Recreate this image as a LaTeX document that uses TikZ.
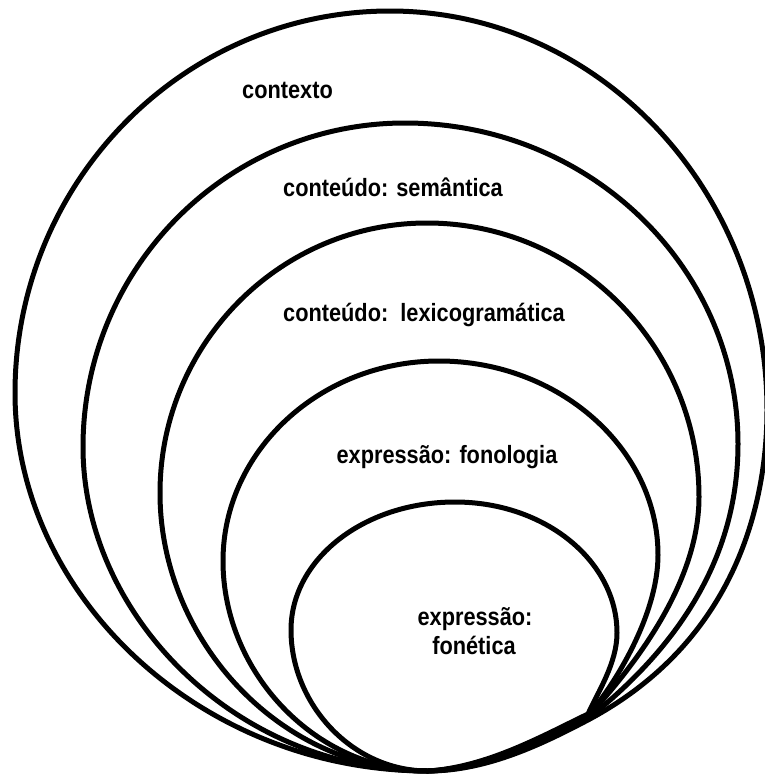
\documentclass[tikz,border=0pt]{standalone}
\usepackage{fontspec}
\setmainfont{Liberation Sans}[FakeStretch=0.87]
\begin{document}
\begin{tikzpicture}[x=1pt,y=-1pt,
  ring/.style={line width=5pt, line join=round},
  lbl/.style={font=\fontsize{25}{29}\selectfont\bfseries, anchor=base, inner sep=0pt}]
\useasboundingbox (0,0) rectangle (765,774);

% common bottom point
\coordinate (B) at (428,771);

% outer ring: contexto
\coordinate (L1) at (15,393);  \coordinate (T1) at (390,11);  \coordinate (R1) at (767,410);
\coordinate (J1) at (588,720);
\draw[ring] (B) .. controls (200,771) and (15,595) .. (L1)
  .. controls (15,182) and (183,11) .. (T1)
  .. controls (598,11) and (767,190) .. (R1)
  .. controls (767,500) and (738,640) .. (J1)
  .. controls (544,743) and (488,771) .. cycle;

% ring 2: semantica
\coordinate (L2) at (83,447);  \coordinate (T2) at (405,123);  \coordinate (R2) at (738,444);
\coordinate (J2) at (588,718.5);
\draw[ring] (B) .. controls (236,771) and (83,615) .. (L2)
  .. controls (83,268) and (227,123) .. (T2)
  .. controls (589,123) and (738,267) .. (R2)
  .. controls (738,554) and (682,644) .. (J2)
  .. controls (544,741) and (488,770) .. cycle;

% ring 3: lexicogramatica
\coordinate (L3) at (160,493);  \coordinate (T3) at (427,223);  \coordinate (R3) at (699,497);
\coordinate (J3) at (588,717);
\draw[ring] (B) .. controls (280,771) and (160,640) .. (L3)
  .. controls (160,344) and (280,223) .. (T3)
  .. controls (577,223) and (699,346) .. (R3)
  .. controls (699,597) and (611,690) .. (J3)
  .. controls (544,739) and (488,769) .. cycle;

% ring 4: fonologia
\coordinate (L4) at (223,561);  \coordinate (T4) at (439,361);  \coordinate (R4) at (658,555);
\coordinate (J4) at (588,715.5);
\draw[ring] (B) .. controls (315,771) and (223,672) .. (L4)
  .. controls (223,451) and (320,361) .. (T4)
  .. controls (558,361) and (658,448) .. (R4)
  .. controls (658,615) and (614,686) .. (J4)
  .. controls (544,737) and (488,768) .. cycle;

% inner ring: fonetica
\coordinate (L5) at (291,630);  \coordinate (T5) at (455,502);  \coordinate (R5) at (617,633);
\coordinate (J5) at (588,714);
\draw[ring] (B) .. controls (352,771) and (291,704) .. (L5)
  .. controls (291,559) and (364,502) .. (T5)
  .. controls (545,502) and (617,561) .. (R5)
  .. controls (617,663) and (598,692) .. (J5)
  .. controls (544,735) and (488,767) .. cycle;

% labels
\node[lbl] (ctx) at (287.5,98) {contexto};
\node[lbl] (sem) at (393,196) {conteúdo: semântica};
\node[lbl] (lex) at (424,321) {conteúdo:\ \ lexicogramática};
\node[lbl] (fon) at (447,463) {expressão: fonologia};
\node[lbl] (fet) at (475,625) {expressão:};
\node[lbl] (fetb) at (474,654) {fonética};
\end{tikzpicture}
\end{document}
